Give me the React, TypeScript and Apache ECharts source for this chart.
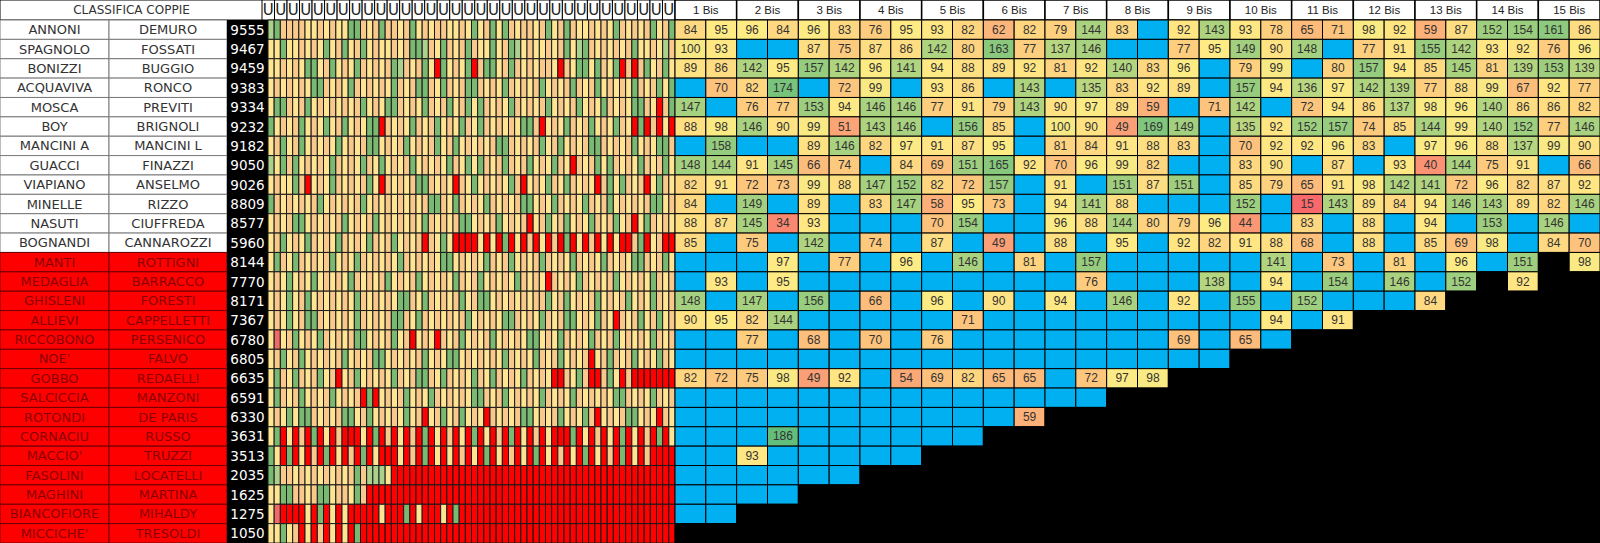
import React, { useEffect, useRef } from "react";
import * as echarts from "echarts";

const _ = null;

const tableTitle = "CLASSIFICA COPPIE";
const playerA = ["ANNONI", "SPAGNOLO", "BONIZZI", "ACQUAVIVA", "MOSCA", "BOY", "MANCINI A", "GUACCI", "VIAPIANO", "MINELLE", "NASUTI", "BOGNANDI", "MANTI", "MEDAGLIA", "GHISLENI", "ALLIEVI", "RICCOBONO", "NOE'", "GOBBO", "SALCICCIA", "ROTONDI", "CORNACIU", "MACCIO'", "FASOLINI", "MAGHINI", "BIANCOFIORE", "MICCICHE'"];
const playerB = ["DEMURO", "FOSSATI", "BUGGIO", "RONCO", "PREVITI", "BRIGNOLI", "MANCINI L", "FINAZZI", "ANSELMO", "RIZZO", "CIUFFREDA", "CANNAROZZI", "ROTTIGNI", "BARRACCO", "FORESTI", "CAPPELLETTI", "PERSENICO", "FALVO", "REDAELLI", "MANZONI", "DE PARIS", "RUSSO", "TRUZZI", "LOCATELLI", "MARTINA", "MIHALDY", "TRESOLDI"];
const scores = [9555, 9467, 9459, 9383, 9334, 9232, 9182, 9050, 9026, 8809, 8577, 5960, 8144, 7770, 8171, 7367, 6780, 6805, 6635, 6591, 6330, 3631, 3513, 2035, 1625, 1275, 1050];
const qualified = [1, 1, 1, 1, 1, 1, 1, 1, 1, 1, 1, 1, 0, 0, 0, 0, 0, 0, 0, 0, 0, 0, 0, 0, 0, 0, 0];

// y = yellow, o = orange, l = light green, g = green, r = red (absent), p = low
const historyHeader = "UUUUUUUUUUUUUUUUUUUUUUUUUUUUUUUUU";
const history = [
  "lgooooyyoyo yyggoyogooy ogyoyooyyoy gyogygoyooy ogyogoyyoyo ygoyoyogyog",
  "yygyyoyoygy ogyogyoyyoy oggloygoyog oyygyoglyoy yoyogylgoyo yoyogyyoylo",
  "yyoyoyggyog yoygoyoyogl oyogyrgyoyg roggyogoyoy ooyroyggygo ygrorogyogy",
  "yoyoyoyggoy oygoyoyoygo yoggoygoyog goyoygoyoyo gyoyogoyogy oyoygoyogyg",
  "yggoyogyoyo yoyogyoyggo yoygoyogyog ygoyoygoyoy ogyoyogyoyg oyoyggoyrog",
  "gyoyogyoygy ogyoyggroyo ygoyogyoygo ygoyoyoyggo ryoygoyogyo ygoyrgroryr",
  "yogyogyoyoy gyoyoggyoyo gyoyogyogyo yoyoggoyoyo gyogyoyoggo yoyogyoyggo",
  "lygogyoyoyg oyoygoygyoy ogyoyoygoyg ygoyogoyogy oygoyroyogy goyoygoyogy",
  "yoyygoryoyg oyoyogyroyo yoggoyoyroy gyoyoygoryo ygoygoyoyro gygoyorygoy",
  "goyoyoyogyo yoyogyoyoyo yoyoggoygoy oygoyoyoggy oygoyoygoyo gyoyoyoggyo",
  "yoyoggyoyoy ogyoyogyoyo yoygoyoyogg yoyogyoyory ogyogyoygoy ogyorygoyoy",
  "yogyoygoyoy goyoygoyogy oyoroygyrrr ryryrgryror yrorgryrory ryrrogryorr",
  "ygoygoyoyog yoygoyoyoyg oyoyoyggyoy oygoyogyoyo goyoygoyoyg oyoyggoyogy",
  "yoygyoygyoy oygoyoyogyo yogyoyoygoy ogyoyoygoyo yroyoygoyoy ogyoyoygoyo",
  "yoygyogyoyo yoygoyoyoyg goygoyoyogy oggyoyoyoyo ogyogyoyogy oyogyoygoyo",
  "yoygyoggoyo yoygoyoyogg oygoyoyoyog yoyoyggoyoy goyoggyoygo yroyogyogyo",
  "ypyogyoygoy oyoggyoyogy oryoyroyogy oyogyoyoygg yoygoyoygoy ogyoyoygoyo",
  "yogyogyoyoy ogyoyoggyoy oyogyoyggyo yoyoygoyoyg oyogyoyoryo goyogyoygoy",
  "ygoygoyogyo ryogyoyoygo yoggoygoyoy goygoyoygoy oyrroygorro gyrorrrrrrr",
  "ygoyogyoyog yoyorgryoyo gyoygoyoyoy ggoyogyoyoy goyoygoyoyo yggoyoygoyo",
  "yoygyggoyoy oggyogyoyoy gyoryogyogy oyroyoyoggy oyogyoygory oyoggyoyroy",
  "ygryrorgryr orrryrgrory rorgryroryr gryrorgryro ryrrrgryror yrgryrorgry",
  "gyrgryrorgr yrorgryrrry rorgryryror yrgryroryrg ryroryrgryr orgryrorrrr",
  "glooyoyoyoy oyogolllyrr rrrrrrrrrrr rrrrrrrrrrr rrrrrrrrrrr rrrrrrrrrrr",
  "yyggooyoggy ooygorrrrrr rrrrrrrrrrr rrrrrrrrrrr rrrrrrrrrrr rrrrrrrrrrr",
  "yprrrryrgry ryrrrrryrrr gryrrryrgrr rrrrrrrrrrr rrrrrrrrrrr rrrrrrrrrrr",
  "yygyoryrory ryrgrrrrrrr rrrrrrrrrrr rrrrrrrrrrr rrrrrrrrrrr rrrrrrrrrrr",
];

const roundHeaders = ["1 Bis", "2 Bis", "3 Bis", "4 Bis", "5 Bis", "6 Bis", "7 Bis", "8 Bis", "9 Bis", "10 Bis", "11 Bis", "12 Bis", "13 Bis", "14 Bis", "15 Bis"];

const bisScores = [
  [84, 95, 96, 84, 96, 83, 76, 95, 93, 82, 62, 82, 79, 144, 83, _, 92, 143, 93, 78, 65, 71, 98, 92, 59, 87, 152, 154, 161, 86],
  [100, 93, _, _, 87, 75, 87, 86, 142, 80, 163, 77, 137, 146, _, _, 77, 95, 149, 90, 148, _, 77, 91, 155, 142, 93, 92, 76, 96],
  [89, 86, 142, 95, 157, 142, 96, 141, 94, 88, 89, 92, 81, 92, 140, 83, 96, _, 79, 99, _, 80, 157, 94, 85, 145, 81, 139, 153, 139],
  [_, 70, 82, 174, _, 72, 99, _, 93, 86, _, 143, _, 135, 83, 92, 89, _, 157, 94, 136, 97, 142, 139, 77, 88, 99, 67, 92, 77],
  [147, _, 76, 77, 153, 94, 146, 146, 77, 91, 79, 143, 90, 97, 89, 59, _, 71, 142, _, 72, 94, 86, 137, 98, 96, 140, 86, 86, 82],
  [88, 98, 146, 90, 99, 51, 143, 146, _, 156, 85, _, 100, 90, 49, 169, 149, _, 135, 92, 152, 157, 74, 85, 144, 99, 140, 152, 77, 146],
  [_, 158, _, _, 89, 146, 82, 97, 91, 87, 95, _, 81, 84, 91, 88, 83, _, 70, 92, 92, 96, 83, _, 97, 96, 88, 137, 99, 90],
  [148, 144, 91, 145, 66, 74, _, 84, 69, 151, 165, 92, 70, 96, 99, 82, _, _, 83, 90, _, 87, _, 93, 40, 144, 75, 91, _, 66],
  [82, 91, 72, 73, 99, 88, 147, 152, 82, 72, 157, _, 91, _, 151, 87, 151, _, 85, 79, 65, 91, 98, 142, 141, 72, 96, 82, 87, 92],
  [84, _, 149, _, 89, _, 83, 147, 58, 95, 73, _, 94, 141, 88, _, _, _, 152, _, 15, 143, 89, 84, 94, 146, 143, 89, 82, 146],
  [88, 87, 145, 34, 93, _, _, _, 70, 154, _, _, 96, 88, 144, 80, 79, 96, 44, _, 83, _, 88, _, 94, _, 153, _, 146, _],
  [85, _, 75, _, 142, _, 74, _, 87, _, 49, _, 88, _, 95, _, 92, 82, 91, 88, 68, _, 88, _, 85, 69, 98, _, 84, 70],
  [_, _, _, 97, _, 77, _, 96, _, 146, _, 81, _, 157, _, _, _, _, _, 141, _, 73, _, 81, _, 96, _, 151, _, 98],
  [_, 93, _, 95, _, _, _, _, _, _, _, _, _, 76, _, _, _, 138, _, 94, _, 154, _, 146, _, 152, _, 92, _, _],
  [148, _, 147, _, 156, _, 66, _, 96, _, 90, _, 94, _, 146, _, 92, _, 155, _, 152, _, _, _, 84, _, _, _, _, _],
  [90, 95, 82, 144, _, _, _, _, _, 71, _, _, _, _, _, _, _, _, _, 94, _, 91, _, _, _, _, _, _, _, _],
  [_, _, 77, _, 68, _, 70, _, 76, _, _, _, _, _, _, _, 69, _, 65, _, _, _, _, _, _, _, _, _, _, _],
  [_, _, _, _, _, _, _, _, _, _, _, _, _, _, _, _, _, _, _, _, _, _, _, _, _, _, _, _, _, _],
  [82, 72, 75, 98, 49, 92, _, 54, 69, 82, 65, 65, _, 72, 97, 98, _, _, _, _, _, _, _, _, _, _, _, _, _, _],
  [_, _, _, _, _, _, _, _, _, _, _, _, _, _, _, _, _, _, _, _, _, _, _, _, _, _, _, _, _, _],
  [_, _, _, _, _, _, _, _, _, _, _, 59, _, _, _, _, _, _, _, _, _, _, _, _, _, _, _, _, _, _],
  [_, _, _, 186, _, _, _, _, _, _, _, _, _, _, _, _, _, _, _, _, _, _, _, _, _, _, _, _, _, _],
  [_, _, 93, _, _, _, _, _, _, _, _, _, _, _, _, _, _, _, _, _, _, _, _, _, _, _, _, _, _, _],
  [_, _, _, _, _, _, _, _, _, _, _, _, _, _, _, _, _, _, _, _, _, _, _, _, _, _, _, _, _, _],
  [_, _, _, _, _, _, _, _, _, _, _, _, _, _, _, _, _, _, _, _, _, _, _, _, _, _, _, _, _, _],
  [_, _, _, _, _, _, _, _, _, _, _, _, _, _, _, _, _, _, _, _, _, _, _, _, _, _, _, _, _, _],
  [_, _, _, _, _, _, _, _, _, _, _, _, _, _, _, _, _, _, _, _, _, _, _, _, _, _, _, _, _, _],
];
// first column index (per row) of the closed (black) part of the grid
const closedFrom = [30, 30, 30, 30, 30, 30, 30, 30, 30, 30, 30, 30, 28, 26, 24, 22, 20, 18, 16, 14, 12, 10, 8, 6, 4, 2, 0];

const HIST_COLORS: Record<string, string> = {
  y: "#FFE592",
  o: "#F9C98B",
  l: "#ABD18D",
  g: "#79B972",
  r: "#FF0000",
  p: "#F0696B",
};
const EMPTY = "#00B0F0";
const SCALE_MID = 95;

function scaleColor(v: number, lo: number, mid: number, hi: number) {
  const low = [248, 105, 107], m = [255, 235, 132], high = [99, 190, 123];
  let a, b, t;
  if (v <= mid) { a = low; b = m; t = (v - lo) / (mid - lo); }
  else { a = m; b = high; t = (v - mid) / (hi - mid); }
  t = Math.max(0, Math.min(1, t));
  const c = a.map((x, i) => Math.round(x + (b[i] - x) * t));
  return `rgb(${c.join(",")})`;
}

type Cell = { x: number; y: number; fill: string; text?: string; textColor?: string; stroke?: string };

function buildOption() {
  const grid: any[] = [], xAxis: any[] = [], yAxis: any[] = [], series: any[] = [];
  const seq = (n: number) => Array.from({ length: n }, (__, i) => String(i));
  function table(box: number[], nx: number, ny: number, cells: Cell[], o: any = {}) {
    const i = grid.length;
    grid.push({ left: box[0], top: box[1], width: box[2], height: box[3], show: false });
    xAxis.push({ type: "category", gridIndex: i, data: seq(nx), show: false });
    yAxis.push({ type: "category", gridIndex: i, data: seq(ny), show: false, inverse: true });
    const font = o.font ?? "DejaVu Sans";
    const size = o.size ?? 12;
    const bw = o.bw ?? 1;
    series.push({
      type: "custom",
      xAxisIndex: i,
      yAxisIndex: i,
      silent: true,
      clip: false,
      data: cells.map((c) => [c.x, c.y]),
      renderItem: (params: any, api: any) => {
        const c = cells[params.dataIndex];
        const p = api.coord([api.value(0), api.value(1)]);
        const s = api.size([1, 1]);
        const children: any[] = [
          {
            type: "rect",
            shape: { x: p[0] - s[0] / 2, y: p[1] - s[1] / 2, width: s[0], height: s[1] },
            style: { fill: c.fill, stroke: bw > 0 ? c.stroke ?? o.border ?? "#000" : null, lineWidth: bw },
          },
        ];
        if (c.text) {
          children.push({
            type: "text",
            x: p[0] + (o.dx ?? 0),
            y: p[1] + (o.dy ?? 0),
            style: {
              text: c.text,
              fill: c.textColor ?? o.color ?? "#222",
              fontSize: size,
              fontFamily: font,
              align: "center",
              verticalAlign: "middle",
            },
          });
        }
        return { type: "group", children };
      },
    });
  }

  const nRows = playerA.length;

  // title
  table([0, 0, 263, 20], 1, 1, [{ x: 0, y: 0, fill: "#fff", text: tableTitle }], {
    size: 12, color: "#333", border: "#000", bw: 1,
  });

  const nameCell = (txt: string, r: number): Cell => ({
    x: 0,
    y: r,
    text: txt,
    fill: qualified[r] ? "#ffffff" : "#ff0000",
    stroke: qualified[r] ? "#7a7a7a" : "#6e0000",
    textColor: qualified[r] ? "#333333" : "#8a0000",
  });
  table([0, 20, 109, 523], 1, nRows, playerA.map((t, r) => nameCell(t, r)), { size: 13 });
  table([109, 20, 118, 523], 1, nRows, playerB.map((t, r) => nameCell(t, r)), { size: 13 });
  table([227, 20, 41, 523], 1, nRows, scores.map((s, r) => ({ x: 0, y: r, fill: "#000", text: String(s) })), {
    size: 13.5, color: "#ffffff", bw: 0,
  });

  // history header
  const hh = historyHeader.split("");
  table([262, 0, 413, 20], hh.length, 1, hh.map((t, i) => ({ x: i, y: 0, fill: "#fff", text: t })), {
    size: 15, color: "#222", border: "#000", bw: 1,
  });

  // history cells
  const hist: Cell[] = [];
  let nCols = 0;
  history.forEach((row, r) => {
    const cells = row.replace(/ /g, "").split("");
    nCols = Math.max(nCols, cells.length);
    cells.forEach((c, x) => hist.push({ x, y: r, fill: HIST_COLORS[c] }));
  });
  table([268, 20, 407, 523], nCols, nRows, hist, { border: "#1a1a1a", bw: 1 });

  // bis header
  table([675, 0, 925, 20], roundHeaders.length, 1, roundHeaders.map((t, i) => ({ x: i, y: 0, fill: "#fff", text: t })), {
    size: 11.5, color: "#222", font: "Liberation Sans", border: "#000", bw: 1.5,
  });

  // bis grid
  const all = bisScores.flat().filter((v) => v != null) as number[];
  const lo = Math.min(...all), hi = Math.max(...all);
  const bis: Cell[] = [];
  bisScores.forEach((row, r) => {
    row.forEach((v, x) => {
      let fill = EMPTY;
      if (v != null) fill = scaleColor(v, lo, SCALE_MID, hi);
      else if (x >= closedFrom[r]) fill = "#000";
      bis.push({ x, y: r, fill, text: v != null ? String(v) : "" });
    });
  });
  table([675, 20, 925, 523], 30, nRows, bis, { size: 12, color: "#333", font: "Liberation Sans", border: "#000", bw: 1 });

  return {
    animation: false,
    backgroundColor: "#000",
    grid,
    xAxis,
    yAxis,
    series,
  };
}

export default function App() {
  const ref = useRef<HTMLDivElement>(null);
  useEffect(() => {
    const chart = echarts.init(ref.current as HTMLDivElement, null, { renderer: "svg" });
    chart.setOption(buildOption() as any);
    return () => chart.dispose();
  }, []);
  return (
    <div
      ref={ref}
      style={{ position: "absolute", left: 0, top: 0, width: "1600px", height: "543px", background: "#000" }}
    />
  );
}
